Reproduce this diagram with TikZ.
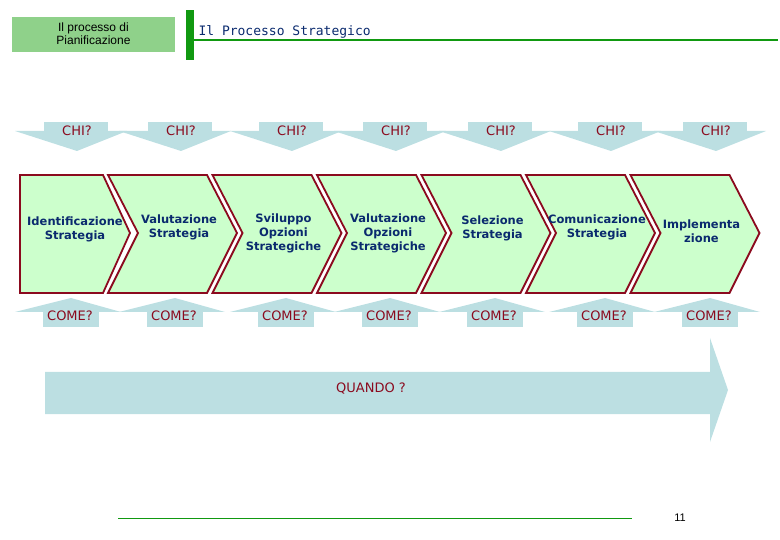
\documentclass[tikz,border=0pt]{standalone}
\usepackage{fontspec}
\setmainfont{DejaVu Sans}
\newfontfamily\arialf{Liberation Sans}
\newfontfamily\monof{DejaVu Sans Mono}
\definecolor{lb}{HTML}{BCDFE2}
\definecolor{dr}{HTML}{8B0A1E}
\definecolor{chev}{HTML}{CCFFCC}
\definecolor{nv}{HTML}{0A2A6E}
\definecolor{hg}{HTML}{8FD18A}
\definecolor{dg}{HTML}{119911}
\tikzset{
  ctext/.style={text=nv,font=\fontsize{11.5}{14}\selectfont\bfseries,align=center,inner sep=0pt},
  qtext/.style={text=dr,font=\fontsize{13}{15}\selectfont},
  arr/.style={fill=lb,draw=none}
}
\begin{document}
\begin{tikzpicture}[x=1pt,y=-1pt]
\useasboundingbox (0,0) rectangle (780,540);
% header
\fill[hg] (12,17) rectangle (175,52);
\node[font=\arialf\fontsize{12}{13}\selectfont,align=center] (hdr) at (93.5,34) {Il processo di\\Pianificazione};
\fill[dg] (186,10) rectangle (194,60);
\draw[dg,line width=1.2pt] (194,40) -- (778,40);
\node[anchor=west,text=nv,font=\monof\fontsize{13}{15}\selectfont] (title) at (195,32) {Il Processo Strategico};
% chevrons
\draw[fill=chev,draw=dr,line width=1.8pt] (20,175) -- (103,175) -- (130,233) -- (103,293) -- (20,293) -- cycle;
\node[ctext] (c0) at (75,229) {Identificazione\\Strategia};
\foreach \k/\txt/\dy in {1/{Valutazione\\Strategia}/-6,2/{Sviluppo\\Opzioni\\Strategiche}/0,3/{Valutazione\\Opzioni\\Strategiche}/0,4/{Selezione\\Strategia}/-5,5/{Comunicazione\\Strategia}/-6,6/{Implementa\\zione}/-2}{
  \pgfmathsetmacro\ox{108+104.5*(\k-1)}
  \draw[fill=chev,draw=dr,line width=1.8pt] (\ox,175) -- (\ox+99,175) -- (\ox+129,233) -- (\ox+99,293) -- (\ox,293) -- (\ox+30,233) -- cycle;
  \node[ctext] (c\k) at (\ox+71,233+\dy) {\txt};
}
% CHI and COME arrows
\foreach \k/\cx in {0/77,1/181,2/292,3/396,4/501,5/611,6/716}{
  \fill[arr] (\cx-33,122) rectangle (\cx+31,131);
  \fill[arr] (\cx-62,131) -- (\cx+50,131) -- (\cx,151) -- cycle;
  \node[qtext] (chi\k) at (\cx,131) {CHI?};
  \fill[arr] (\cx-62,312) -- (\cx+44,312) -- (\cx-6,298) -- cycle;
  \fill[arr] (\cx-34,312) rectangle (\cx+22,327);
  \node[qtext] (come\k) at (\cx-7,316) {COME?};
}
% big arrow
\fill[arr] (45,372) -- (710,372) -- (710,338) -- (728,390) -- (710,442) -- (710,414) -- (45,414) -- cycle;
\node[qtext] (quando) at (371,389) {QUANDO ?};
% footer
\draw[dg,line width=0.8pt] (118,518) -- (632,518);
\node[font=\arialf\fontsize{11}{12}\selectfont] (pg) at (680,518) {11};
\end{tikzpicture}
\end{document}
